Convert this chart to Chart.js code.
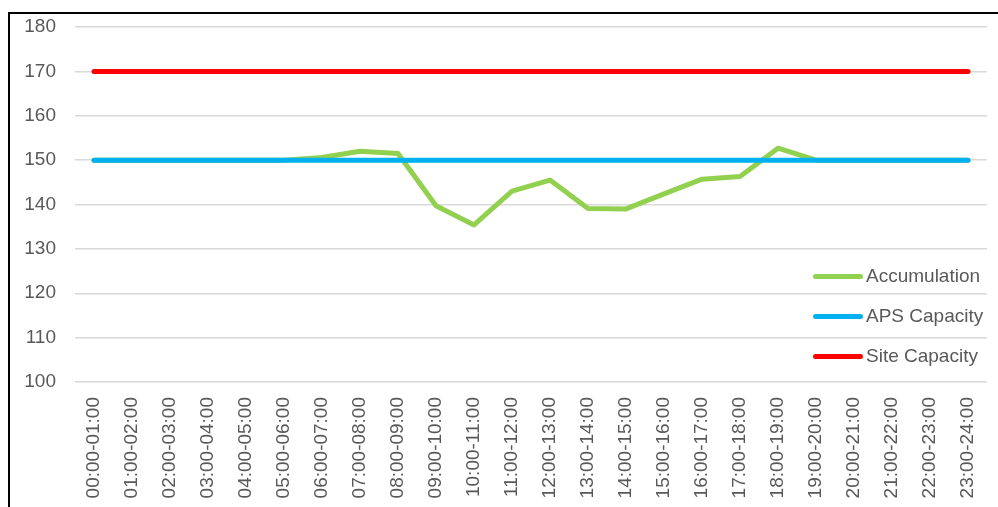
<!DOCTYPE html>
<html>
<head>
<meta charset="utf-8">
<script src="https://cdn.jsdelivr.net/npm/chart.js@4/dist/chart.umd.min.js"></script>
<style>
  html, body { margin: 0; padding: 0; background: #fff; }
  #wrap { position: relative; width: 998px; height: 507px; overflow: hidden; }
  #frame {
    position: absolute; left: 8px; top: 12px; width: 1100px; height: 600px;
    border-left: 2.5px solid #000; border-top: 2.5px solid #000; pointer-events: none;
  }
  #legend { position: absolute; left: 813px; top: 256px; font-family: "Liberation Sans", Arial, sans-serif; }
  .item { display: flex; align-items: center; height: 40px; color: #595959; font-size: 19px; }
  .swatch { width: 50px; height: 5px; border-radius: 3px; margin-right: 3px; }
</style>
</head>
<body>
<div id="wrap">
  <canvas id="chart" width="998" height="507"></canvas>
  <div id="frame"></div>
  <div id="legend"></div>
</div>
<script>
// hourly slots
const slots = [
  "00:00-01:00", "01:00-02:00", "02:00-03:00", "03:00-04:00", "04:00-05:00", "05:00-06:00",
  "06:00-07:00", "07:00-08:00", "08:00-09:00", "09:00-10:00", "10:00-11:00", "11:00-12:00",
  "12:00-13:00", "13:00-14:00", "14:00-15:00", "15:00-16:00", "16:00-17:00", "17:00-18:00",
  "18:00-19:00", "19:00-20:00", "20:00-21:00", "21:00-22:00", "22:00-23:00", "23:00-24:00"
];

const accumulation = [
  150, 150, 150, 150, 150, 150, 150.6, 152, 151.5, 139.7, 135.4, 143,
  145.5, 139.1, 139, 142.4, 145.7, 146.3, 152.7, 150, 150, 150, 150, 150
];
const apsCapacity = Array(24).fill(150);
const siteCapacity = Array(24).fill(170);

const yTicks = [100, 110, 120, 130, 140, 150, 160, 170, 180];

const FONT = "'Liberation Sans', Arial, sans-serif";
const TEXT = "#595959";

function lineSet(label, data, color, order) {
  return {
    label, data, order,
    borderColor: color,
    backgroundColor: color,
    borderWidth: 5,
    borderCapStyle: "round",
    borderJoinStyle: "round",
    pointRadius: 0,
    tension: 0,
    fill: false,
  };
}

const ctx = document.getElementById("chart").getContext("2d");
const chart = new Chart(ctx, {
  type: "line",
  data: {
    labels: slots,
    datasets: [
      lineSet("Accumulation", accumulation, "#92d050", 3),
      lineSet("APS Capacity", apsCapacity, "#00b0f0", 2),
      lineSet("Site Capacity", siteCapacity, "#ff0000", 1),
    ],
  },
  options: {
    responsive: false,
    animation: false,
    layout: { padding: { top: 27, right: 11, left: 0, bottom: 0 } },
    plugins: {
      legend: { display: false },
      tooltip: { enabled: false },
    },
    scales: {
      x: {
        offset: true,
        grid: { display: false, drawTicks: false },
        border: { display: false },
        ticks: {
          autoSkip: false,
          minRotation: 90,
          maxRotation: 90,
          padding: 15,
          color: TEXT,
          font: { family: FONT, size: 19 },
        },
        afterFit: (scale) => {
          scale.height = 125;
          scale.paddingLeft = 0;
          scale.paddingRight = 0;
        },
      },
      y: {
        min: 100,
        max: 180,
        afterBuildTicks: (scale) => {
          scale.ticks = yTicks.map((v) => ({ value: v }));
        },
        grid: { color: "#d9d9d9", lineWidth: 1.5, drawTicks: false },
        border: { display: false },
        ticks: {
          padding: 19,
          color: TEXT,
          font: { family: FONT, size: 19 },
        },
        afterFit: (scale) => {
          scale.width = 75;
          scale.paddingTop = 0;
          scale.paddingBottom = 0;
        },
      },
    },
  },
});

// legend stacked inside the plot, built from the datasets
const legend = document.getElementById("legend");
chart.data.datasets.forEach((ds) => {
  const row = document.createElement("div");
  row.className = "item";
  const sw = document.createElement("span");
  sw.className = "swatch";
  sw.style.background = ds.borderColor;
  const label = document.createElement("span");
  label.textContent = ds.label;
  row.appendChild(sw);
  row.appendChild(label);
  legend.appendChild(row);
});
</script>
</body>
</html>
